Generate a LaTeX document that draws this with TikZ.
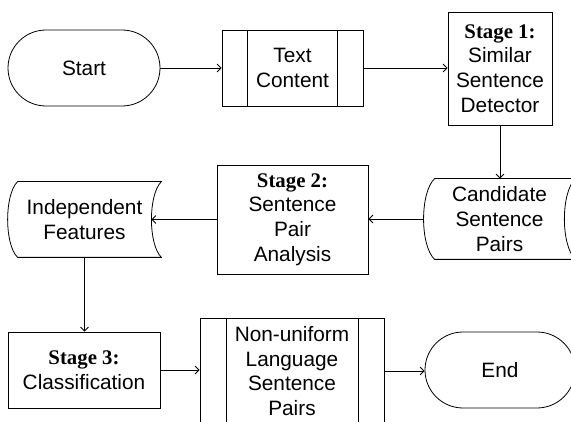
\documentclass[tikz,border=0pt]{standalone}
\usepackage{fontspec}
\setmainfont{Liberation Sans}
\newfontfamily\stagefont{Liberation Serif}
\usetikzlibrary{arrows.meta,shapes.misc}
\newcommand{\stg}[1]{{\stagefont\bfseries #1}}
\begin{document}
\begin{tikzpicture}[x=1pt,y=-1pt,
  base/.style={font=\fontsize{20.8}{24.7}\selectfont, align=center, inner sep=0pt, line width=0.8pt},
  term/.style={base, draw, rounded rectangle, minimum width=150pt, minimum height=76pt},
  boxnode/.style={base, draw, rectangle},
  ghost/.style={base, rectangle},
  outline/.style={line width=0.8pt},
  flow/.style={line width=0.8pt, -{Straight Barb[length=4pt,width=8pt]}}]
\useasboundingbox (0,0) rectangle (571,422);
\clip (0,0) rectangle (571,422);

% nodes
\node[term, minimum width=152pt] (start) at (84,68) {Start};
\node[boxnode, minimum width=141pt, minimum height=76pt] (text) at (292.5,68) {Text\\Content};
\node[boxnode, minimum width=104pt, minimum height=113pt] (s1) at (500,68.5) {\stg{Stage 1:}\\Similar\\Sentence\\Detector};
\node[ghost, minimum width=151pt, minimum height=80pt] (cand) at (499.5,219) {Candidate\\Sentence\\Pairs};
\node[boxnode, minimum width=151pt, minimum height=109pt] (s2) at (292.5,219.5) {\stg{Stage 2:}\\Sentence\\Pair\\Analysis};
\node[ghost, minimum width=153pt, minimum height=75pt] (ind) at (84.5,219.5) {Independent\\Features};
\node[boxnode, minimum width=152pt, minimum height=76pt] (s3) at (84,370) {\stg{Stage 3:}\\Classification};
\node[boxnode, minimum width=184pt, minimum height=106pt] (nu) at (292,371) {Non-uniform\\Language\\Sentence\\Pairs};
\node[term] (end) at (500,370) {End};

% bars of the process shapes
\draw[outline] ([xshift=26pt]text.north west) -- ([xshift=26pt]text.south west);
\draw[outline] ([xshift=-26pt]text.north east) -- ([xshift=-26pt]text.south east);
\draw[outline] ([xshift=27pt]nu.north west) -- ([xshift=27pt]nu.south west);
\draw[outline] ([xshift=-26pt]nu.north east) -- ([xshift=-26pt]nu.south east);

% stored data outlines
\draw[outline] ([xshift=11pt]cand.north west) -- (cand.north east)
  .. controls ([xshift=-14.7pt,yshift=-14pt]cand.north east) and ([xshift=-14.7pt,yshift=14pt]cand.south east) .. (cand.south east)
  -- ([xshift=11pt]cand.south west)
  .. controls ([xshift=-3.7pt,yshift=14pt]cand.south west) and ([xshift=-3.7pt,yshift=-14pt]cand.north west) .. cycle;
\draw[outline] ([xshift=10pt]ind.north west) -- (ind.north east)
  .. controls ([xshift=-13.3pt,yshift=-13pt]ind.north east) and ([xshift=-13.3pt,yshift=13pt]ind.south east) .. (ind.south east)
  -- ([xshift=10pt]ind.south west)
  .. controls ([xshift=-3.3pt,yshift=13pt]ind.south west) and ([xshift=-3.3pt,yshift=-13pt]ind.north west) .. cycle;

% connectors
\draw[flow] (start.east) -- (text.west);
\draw[flow] (text.east) -- (text.east -| s1.west);
\draw[flow] (s1.south) -- (s1.south |- cand.north);
\draw[flow] (cand.west) -- (cand.west -| s2.east);
\draw[flow] (s2.west) -- ([xshift=-10pt]ind.east);
\draw[flow] (ind.south) -- (ind.south |- s3.north);
\draw[flow] (s3.east) -- (s3.east -| nu.west);
\draw[flow] (nu.east) -- (nu.east -| end.west);
\end{tikzpicture}
\end{document}
